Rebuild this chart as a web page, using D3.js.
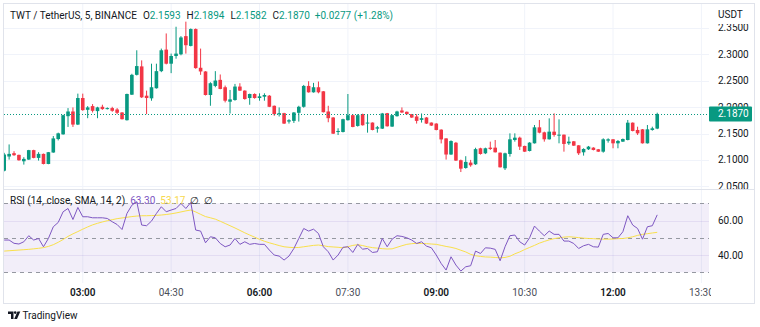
<!DOCTYPE html>
<html><head><meta charset="utf-8">
<script src="https://cdn.jsdelivr.net/npm/d3@7"></script>
<style>
html,body{margin:0;padding:0;background:#fff;}
svg{display:block;font-family:Roboto,"Noto Sans",sans-serif;}
</style></head><body>
<svg id="c" width="760" height="327"></svg>
<script>
// ---------------- data ----------------
const firstCandle = "01:40";
const intervalMin = 5;
const opens = [2.0796,2.1064,2.1127,2.1095,2.0974,2.1006,2.1185,2.1038,2.1114,2.0923,
2.1140,2.1395,2.1484,2.1828,2.1917,2.1669,2.2172,2.1949,2.2019,2.1924,
2.2006,2.1962,2.1981,2.1955,2.1898,2.1752,2.2235,2.2611,2.2771,2.2216,
2.2166,2.2357,2.2681,2.3089,2.2822,2.2968,2.3000,2.3344,2.3159,2.3478,
2.2745,2.2675,2.2229,2.2401,2.2516,2.2376,2.2102,2.2134,2.2389,2.2312,
2.2172,2.2248,2.2172,2.2197,2.2216,2.2025,2.1866,2.1885,2.1726,2.1739,
2.1892,2.2006,2.2401,2.2280,2.2376,2.2299,2.1917,2.1803,2.1529,2.1529,
2.1752,2.1847,2.1643,2.1866,2.1694,2.1707,2.1592,2.1592,2.1885,2.1631,
2.1828,2.1936,2.1911,2.1866,2.1822,2.1758,2.1803,2.1707,2.1688,2.1573,
2.1407,2.1102,2.1325,2.0994,2.0847,2.0949,2.0917,2.1220,2.1125,2.1232,
2.1232,2.1137,2.0841,2.1112,2.1377,2.1421,2.1264,2.1169,2.1314,2.1617,
2.1522,2.1390,2.1535,2.1459,2.1478,2.1314,2.1352,2.1276,2.1144,2.1201,
2.1232,2.1201,2.1156,2.1365,2.1390,2.1314,2.1346,2.1377,2.1705,2.1567,
2.1579,2.1314,2.1567,2.1593];
const highs = [2.1134,2.1293,2.1165,2.1100,2.1051,2.1190,2.1192,2.1146,2.1120,2.1150,
2.1452,2.1516,2.1855,2.1981,2.1994,2.2255,2.2255,2.2019,2.2057,2.2006,
2.2045,2.1994,2.2006,2.1981,2.1905,2.2255,2.2631,2.3076,2.2885,2.2312,
2.2822,2.2822,2.3108,2.3395,2.3013,2.3522,2.3344,2.3618,2.3490,2.3490,
2.3108,2.2680,2.2471,2.2681,2.2618,2.2408,2.2325,2.2439,2.2452,2.2318,
2.2255,2.2261,2.2261,2.2261,2.2229,2.2030,2.1994,2.1892,2.1771,2.1905,
2.2025,2.2420,2.2490,2.2459,2.2484,2.2305,2.2025,2.1810,2.1599,2.1780,
2.2248,2.1866,2.1866,2.1875,2.1866,2.1710,2.1643,2.1890,2.1890,2.1855,
2.1930,2.1994,2.1917,2.1870,2.1866,2.1879,2.1810,2.1710,2.1695,2.1580,
2.1410,2.1370,2.1340,2.1006,2.1070,2.1000,2.1230,2.1230,2.1232,2.1346,
2.1377,2.1140,2.1137,2.1503,2.1503,2.1440,2.1270,2.1335,2.1661,2.1756,
2.1535,2.1787,2.1882,2.1768,2.1480,2.1440,2.1358,2.1280,2.1220,2.1264,
2.1240,2.1207,2.1409,2.1409,2.1395,2.1377,2.1405,2.1756,2.1710,2.1629,
2.1585,2.1661,2.1629,2.1894];
const lows = [2.0783,2.1006,2.1076,2.0985,2.0911,2.1000,2.1030,2.0987,2.0915,2.0918,
2.1135,2.1369,2.1478,2.1624,2.1624,2.1660,2.1930,2.1790,2.1898,2.1790,
2.1949,2.1955,2.1911,2.1866,2.1765,2.1745,2.2230,2.2599,2.2172,2.1866,
2.2121,2.2350,2.2662,2.2809,2.2643,2.2917,2.2981,2.3013,2.3150,2.2726,
2.2611,2.2220,2.2025,2.2376,2.2338,2.2089,2.1879,2.2121,2.2306,2.2140,
2.2044,2.2159,2.2121,2.2121,2.2000,2.1834,2.1822,2.1680,2.1688,2.1700,
2.1726,2.1990,2.2274,2.2274,2.2261,2.1898,2.1713,2.1490,2.1471,2.1520,
2.1745,2.1618,2.1630,2.1650,2.1516,2.1560,2.1516,2.1585,2.1630,2.1625,
2.1820,2.1890,2.1860,2.1795,2.1688,2.1707,2.1680,2.1643,2.1560,2.1312,
2.1006,2.1095,2.0980,2.0770,2.0834,2.0870,2.0905,2.1100,2.1110,2.1188,
2.1140,2.0855,2.0809,2.1062,2.1346,2.1188,2.1150,2.1160,2.1310,2.1503,
2.1346,2.1385,2.1440,2.1314,2.1156,2.1283,2.1264,2.1093,2.1081,2.1188,
2.1180,2.1150,2.1137,2.1327,2.1220,2.1220,2.1340,2.1370,2.1540,2.1472,
2.1310,2.1310,2.1554,2.1582];
const closes = [2.1102,2.1114,2.1089,2.0993,2.1019,2.1185,2.1038,2.1114,2.0923,2.1146,
2.1407,2.1503,2.1847,2.1917,2.1669,2.2172,2.1943,2.1994,2.1930,2.1994,
2.1962,2.1981,2.1930,2.1892,2.1771,2.2248,2.2611,2.2777,2.2185,2.2172,
2.2376,2.2681,2.3076,2.2822,2.2968,2.3013,2.3319,2.3172,2.3478,2.2739,
2.2675,2.2229,2.2452,2.2503,2.2344,2.2121,2.2146,2.2389,2.2312,2.2153,
2.2248,2.2172,2.2204,2.2229,2.2006,2.1866,2.1885,2.1688,2.1751,2.1898,
2.2006,2.2401,2.2280,2.2376,2.2280,2.1904,2.1790,2.1497,2.1548,2.1771,
2.1847,2.1624,2.1847,2.1656,2.1707,2.1567,2.1618,2.1879,2.1637,2.1847,
2.1917,2.1898,2.1866,2.1802,2.1739,2.1790,2.1688,2.1650,2.1567,2.1388,
2.1102,2.1357,2.0987,2.0834,2.0962,2.0898,2.1204,2.1112,2.1220,2.1207,
2.1144,2.0860,2.1125,2.1390,2.1421,2.1251,2.1156,2.1327,2.1617,2.1516,
2.1390,2.1535,2.1472,2.1478,2.1302,2.1346,2.1270,2.1125,2.1207,2.1251,
2.1188,2.1156,2.1390,2.1390,2.1314,2.1358,2.1396,2.1705,2.1548,2.1503,
2.1314,2.1579,2.1598,2.1870];
const rsiValues = [48.7,48.7,46.8,46.4,47.7,51.2,48.7,49.6,44.8,49.6,
56.4,58.9,65.1,67.0,60.6,67.6,62.2,62.2,61.6,61.6,
61.6,61.2,59.3,57.7,54.8,64.1,68.9,70.9,57.4,57.0,
59.7,64.1,68.0,65.1,66.1,67.0,69.9,67.0,70.5,54.5,
53.9,47.1,50.6,50.0,46.7,44.8,45.8,49.6,46.2,47.7,
46.2,46.7,46.2,46.2,42.9,40.0,39.4,37.1,39.4,43.8,
49.6,55.4,53.9,55.0,52.5,44.8,41.9,37.1,40.0,44.5,
44.8,41.5,46.2,43.4,43.8,41.5,41.9,49.6,44.8,49.2,
51.2,50.8,50.0,48.7,46.7,47.7,45.2,44.2,40.0,35.1,
31.3,39.0,34.2,30.7,33.2,33.8,42.3,40.9,44.2,44.0,
43.3,36.7,44.8,51.2,51.6,47.7,45.8,50.0,56.8,53.9,
51.2,53.9,52.0,52.0,48.1,48.1,46.7,43.8,45.4,46.2,
44.8,44.6,52.0,52.5,50.0,50.0,53.5,62.8,57.4,55.4,
49.2,56.4,57.0,63.3];
const rsiSma = [42.3,42.5,42.7,42.9,43.1,43.3,43.6,43.9,44.3,45.0,
46.0,47.4,49.0,50.8,52.3,53.6,55.0,56.3,57.5,58.4,
59.2,59.9,60.5,61.1,61.5,61.9,62.3,62.6,62.8,62.8,
62.9,63.0,63.2,63.5,63.9,64.4,65.0,65.6,66.1,65.0,
63.6,62.3,61.6,60.8,59.6,58.3,57.0,55.7,54.3,52.9,
51.6,50.4,49.1,48.0,47.1,46.3,45.5,44.8,44.5,44.3,
44.4,44.8,45.2,45.6,45.8,45.4,44.9,44.7,44.5,44.2,
44.8,45.6,46.0,45.5,44.8,44.3,44.0,43.7,43.5,43.6,
44.5,45.4,46.2,46.6,46.8,46.7,46.6,46.4,46.2,45.6,
45.0,44.5,43.8,42.8,41.8,40.4,39.6,39.2,38.9,38.8,
38.6,38.4,38.6,39.3,40.7,41.8,43.2,44.4,45.6,46.9,
47.9,48.8,49.5,50.0,50.4,50.6,50.4,50.1,49.8,49.6,
49.5,49.3,49.2,49.2,49.3,49.5,49.6,50.0,50.6,51.4,
52.0,52.4,52.8,53.17];
const priceTicks = [2.05,2.10,2.15,2.20,2.25,2.30,2.35];
const rsiGridTicks = [40,60];
const rsiDashedLevels = [30,50,70];
const timeTicks = ["03:00","04:30","06:00","07:30","09:00","10:30","12:00","13:30"];
const majorTimeTicks = ["03:00","06:00","09:00","12:00"];
const symbolTitle = "TWT / TetherUS, 5, BINANCE";
const ohlcLabels = ["O","H","L","C"];
const ohlcValues = ["2.1593","2.1894","2.1582","2.1870"];
const changeText = "+0.0277 (+1.28%)";
const lastPrice = 2.1870;
const rsiTitle = "RSI (14, close, SMA, 14, 2)";
const rsiLegendValues = ["63.30","53.17"];
const currency = "USDT";

// ---------------- layout ----------------
const UP = "#089981", DOWN = "#f23645", TXT = "#131722", GRID = "#f0f3fa";
const L = 4, R = 709, BOXR = 754, PT = 4, PB = 189, RT = 190, RB = 283, TB = 303;
const svg = d3.select("#c");
const parse = d3.timeParse("%H:%M");
const t0 = parse(firstCandle);
const times = closes.map((_, i) => d3.timeMinute.offset(t0, i * intervalMin));
const x = d3.scaleTime().domain([times[0], times[times.length - 1]]).range([4.2, 4.2 + 4.91 * (closes.length - 1)]);
const y = d3.scaleLinear().domain([2.05, 2.35]).range([186.3, 27.9]);
const yr = d3.scaleLinear().domain([30, 70]).range([272.3, 203.3]);

const defs = svg.append("defs");
defs.append("clipPath").attr("id", "cp").append("rect").attr("x", L).attr("y", PT).attr("width", R - L).attr("height", PB - PT);
defs.append("clipPath").attr("id", "cr").append("rect").attr("x", L).attr("y", RT).attr("width", R - L).attr("height", RB - RT);
defs.append("clipPath").attr("id", "ct").append("rect").attr("x", L).attr("y", RB).attr("width", R - L + 2).attr("height", TB - RB);
defs.append("clipPath").attr("id", "ca").append("rect").attr("x", R).attr("y", PT).attr("width", BOXR - R).attr("height", PB - PT);

// grid
const tickTimes = timeTicks.map(parse);
svg.append("g").selectAll("line").data(tickTimes).join("line")
  .attr("x1", d => x(d)).attr("x2", d => x(d)).attr("y1", PT).attr("y2", RB)
  .attr("stroke", GRID).attr("stroke-width", 1);
svg.append("g").attr("clip-path", "url(#cp)").selectAll("line").data(priceTicks).join("line")
  .attr("x1", L).attr("x2", R).attr("y1", d => Math.round(y(d)) + 0.5).attr("y2", d => Math.round(y(d)) + 0.5)
  .attr("stroke", GRID);

// RSI pane background band + lines
const rg = svg.append("g").attr("clip-path", "url(#cr)");
rg.append("rect").attr("x", L).attr("width", R - L).attr("y", yr(70)).attr("height", yr(30) - yr(70))
  .attr("fill", "rgba(126,87,194,0.1)");
rg.selectAll("line.g").data(rsiGridTicks).join("line").attr("class", "g")
  .attr("x1", L).attr("x2", R).attr("y1", d => Math.round(yr(d)) + 0.5).attr("y2", d => Math.round(yr(d)) + 0.5)
  .attr("stroke", "rgba(126,87,194,0.12)");
rg.selectAll("line.d").data(rsiDashedLevels).join("line").attr("class", "d")
  .attr("x1", L).attr("x2", R).attr("y1", d => Math.round(yr(d)) + 0.5).attr("y2", d => Math.round(yr(d)) + 0.5)
  .attr("stroke", "#9598a1").attr("stroke-dasharray", "4,4");
rg.append("path").datum(rsiSma).attr("fill", "none").attr("stroke", "#f9e04b").attr("stroke-width", 1)
  .attr("d", d3.line().x((d, i) => x(times[i])).y(d => yr(d)));
rg.append("path").datum(rsiValues).attr("fill", "none").attr("stroke", "#7e57c2").attr("stroke-width", 1)
  .attr("d", d3.line().x((d, i) => x(times[i])).y(d => yr(d)));

// candles
const candles = closes.map((c, i) => ({t: times[i], o: opens[i], h: highs[i], l: lows[i], c}));
const cg = svg.append("g").attr("clip-path", "url(#cp)");
cg.selectAll("line.w").data(candles).join("line").attr("class", "w")
  .attr("x1", d => x(d.t)).attr("x2", d => x(d.t)).attr("y1", d => y(d.h)).attr("y2", d => y(d.l))
  .attr("stroke", d => d.c >= d.o ? UP : DOWN).attr("stroke-width", 1);
const bw = 3.6;
cg.selectAll("rect").data(candles).join("rect")
  .attr("x", d => x(d.t) - bw / 2).attr("width", bw)
  .attr("y", d => y(Math.max(d.o, d.c))).attr("height", d => Math.max(1, Math.abs(y(d.o) - y(d.c))))
  .attr("fill", d => d.c >= d.o ? UP : DOWN);

// last price line
cg.append("line").attr("x1", L).attr("x2", R).attr("y1", Math.round(y(lastPrice)) + 0.5).attr("y2", Math.round(y(lastPrice)) + 0.5)
  .attr("stroke", UP).attr("stroke-dasharray", "1,2").attr("stroke-width", 1);

// price axis
const pa = svg.append("g").attr("clip-path", "url(#ca)");
pa.selectAll("text").data(priceTicks).join("text")
  .attr("x", 718).attr("y", d => y(d)).attr("dy", "0.35em")
  .attr("font-size", 10).attr("fill", TXT).text(d => d3.format(".4f")(d));
svg.append("rect").attr("x", R + 1).attr("y", PT + 1).attr("width", BOXR - R - 2).attr("height", 19).attr("fill", "#fff");
svg.append("text").attr("x", 718).attr("y", 18).attr("font-size", 10).attr("fill", TXT).text(currency);
svg.append("rect").attr("x", R).attr("y", y(lastPrice) - 7.5).attr("width", 43).attr("height", 15).attr("rx", 1).attr("fill", UP);
svg.append("text").attr("x", 718).attr("y", y(lastPrice)).attr("dy", "0.35em").attr("font-size", 10)
  .attr("fill", "#fff").text(d3.format(".4f")(lastPrice));

// RSI axis
svg.append("g").selectAll("text").data(rsiGridTicks).join("text")
  .attr("x", 718).attr("y", d => yr(d)).attr("dy", "0.35em").attr("font-size", 10).attr("fill", TXT)
  .text(d => d3.format(".2f")(d));

// time axis
svg.append("g").attr("clip-path", "url(#ct)").selectAll("text").data(tickTimes).join("text")
  .attr("x", d => x(d)).attr("y", 296).attr("text-anchor", "middle").attr("font-size", 10)
  .attr("font-weight", d => majorTimeTicks.includes(d3.timeFormat("%H:%M")(d)) ? 600 : 400)
  .attr("fill", d => majorTimeTicks.includes(d3.timeFormat("%H:%M")(d)) ? TXT : "#4a4e59")
  .text(d => d3.timeFormat("%H:%M")(d));

// frame & separators
svg.append("rect").attr("x", L - 0.5).attr("y", PT - 0.5).attr("width", BOXR - L + 1).attr("height", TB - PT + 1)
  .attr("fill", "none").attr("stroke", "#e0e3eb");
svg.append("line").attr("x1", L).attr("x2", BOXR).attr("y1", PB + 0.5).attr("y2", PB + 0.5).attr("stroke", "#e0e3eb");

// legend
const lg = svg.append("text").attr("x", 10).attr("y", 19).attr("font-size", 10).attr("fill", TXT);
lg.append("tspan").text(symbolTitle);
ohlcLabels.forEach((lab, i) => {
  lg.append("tspan").attr("dx", 6).text(lab);
  lg.append("tspan").attr("fill", UP).text(ohlcValues[i]);
});
lg.append("tspan").attr("dx", 5).attr("fill", UP).text(changeText);

const rl = svg.append("text").attr("x", 10).attr("y", 204).attr("font-size", 10).attr("fill", TXT);
rl.append("tspan").text(rsiTitle);
rl.append("tspan").attr("dx", 5).attr("fill", "#7e57c2").text(rsiLegendValues[0]);
rl.append("tspan").attr("dx", 5).attr("fill", "#f7d94c").text(rsiLegendValues[1]);
rl.append("tspan").attr("dx", 5).attr("fill", TXT).text("∅");
rl.append("tspan").attr("dx", 5).attr("fill", TXT).text("∅");

// logo
const logo = svg.append("g").attr("fill", TXT);
logo.append("path").attr("d", "M8,311.5h5.5v7.5h-2.5v-5h-3z");
logo.append("circle").attr("cx", 15.2).attr("cy", 312.6).attr("r", 1.3);
logo.append("path").attr("d", "M17.5,311.5h2.8l-3.3,7.5h-2.8z");
svg.append("text").attr("x", 22.5).attr("y", 319).attr("font-size", 10).attr("fill", TXT).text("TradingView");
</script>
</body></html>
